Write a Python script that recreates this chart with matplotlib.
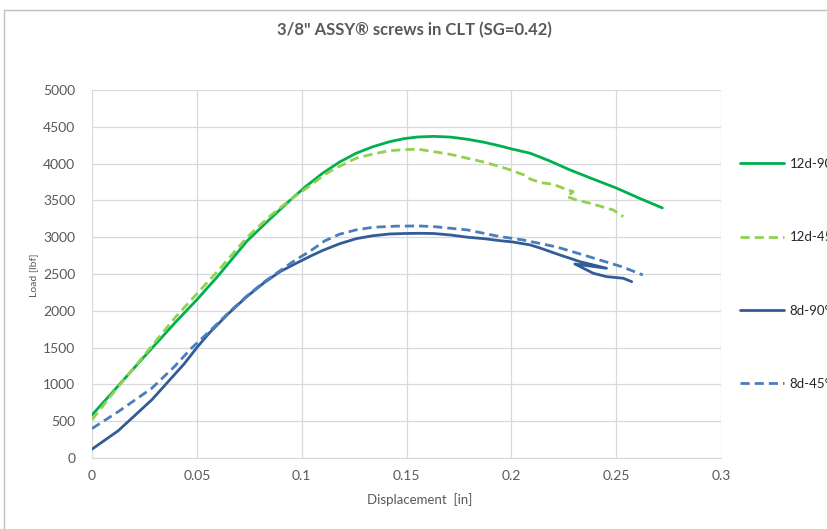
import numpy as np
import matplotlib
matplotlib.use('Agg')
import matplotlib.pyplot as plt
from matplotlib.patches import Rectangle

# data
x_12d90 = [0, 0.01, 0.025, 0.04, 0.05, 0.06, 0.074, 0.085, 0.0944, 0.102, 0.110, 0.118,
           0.126, 0.134, 0.142, 0.149, 0.1556, 0.163, 0.171, 0.179, 0.187, 0.1946,
           0.2, 0.209, 0.218, 0.228, 0.239, 0.250, 0.261, 0.272]
y_12d90 = [585, 900, 1380, 1850, 2150, 2470, 2950, 3250, 3500, 3690, 3869, 4020,
           4141, 4230, 4298, 4340, 4362, 4370, 4360, 4331, 4290, 4240,
           4200, 4141, 4040, 3914, 3790, 3669, 3530, 3398]

x_12d45 = [0, 0.01, 0.025, 0.04, 0.05, 0.06, 0.074, 0.085, 0.0944, 0.1, 0.105, 0.11,
           0.115, 0.12, 0.126, 0.134, 0.142, 0.149, 0.1556, 0.163, 0.171, 0.179,
           0.187, 0.1946, 0.2, 0.206, 0.209, 0.214, 0.220, 0.2248,
           0.2295, 0.2264, 0.2311, 0.2375, 0.2486, 0.2534]
y_12d45 = [520, 880, 1400, 1920, 2230, 2540, 3000, 3290, 3506, 3620, 3720, 3830,
           3920, 3990, 4073, 4130, 4176, 4190, 4195, 4163, 4125, 4073,
           4020, 3959, 3910, 3846, 3790, 3741, 3720, 3665,
           3619, 3551, 3506, 3461, 3370, 3279]

x_8d90 = [0, 0.0125, 0.0285, 0.044, 0.05, 0.056, 0.065, 0.0738, 0.082, 0.0897, 0.097,
          0.104, 0.110, 0.118, 0.126, 0.134, 0.142, 0.149, 0.1556, 0.163, 0.171, 0.179,
          0.187, 0.1946, 0.2007, 0.209, 0.2136, 0.222, 0.2327, 0.2454,
          0.2303, 0.2391, 0.2454, 0.2534, 0.2574]
y_8d90 = [120, 370, 790, 1280, 1500, 1700, 1960, 2192, 2380, 2532, 2640,
          2740, 2820, 2910, 2980, 3020, 3044, 3050, 3053, 3050, 3030, 3000,
          2980, 2953, 2935, 2895, 2854, 2770, 2668, 2578,
          2636, 2510, 2464, 2442, 2396]

x_8d45 = [0, 0.0125, 0.0285, 0.0396, 0.047, 0.056, 0.065, 0.0738, 0.082, 0.0897, 0.097,
          0.104, 0.111, 0.118, 0.126, 0.134, 0.145, 0.1556, 0.163, 0.179, 0.1946,
          0.2055, 0.2217, 0.2375, 0.253, 0.2627]
y_8d45 = [400, 629, 947, 1250, 1480, 1720, 1970, 2200, 2390, 2545, 2690,
          2810, 2950, 3040, 3100, 3135, 3150, 3153, 3144, 3099, 3008,
          2963, 2867, 2732, 2596, 2487]

series = [
    ('12d-90°', x_12d90, y_12d90, '#00B050', '-'),
    ('12d-45°', x_12d45, y_12d45, '#92D050', '--'),
    ('8d-90°', x_8d90, y_8d90, '#335C96', '-'),
    ('8d-45°', x_8d45, y_8d45, '#4A7EBB', '--'),
]

plt.rcParams['font.family'] = ['Lato', 'DejaVu Sans']
gray = '#595959'

fig = plt.figure(figsize=(8.27, 5.29), dpi=100)
ax = fig.add_axes([92/827, 1 - 458/529, (721 - 92)/827, (458 - 90)/529])

for label, xs, ys, color, ls in series:
    line, = ax.plot(xs, ys, color=color, lw=2.0, label=label, solid_capstyle='round',
                    solid_joinstyle='round')
    if ls == '--':
        line.set_dashes((3.3, 1.8))
        line.set_dash_capstyle('butt')

ax.set_xlim(0, 0.3)
ax.set_ylim(0, 5000)
ax.set_xticks(np.arange(0, 0.31, 0.05))
ax.set_xticklabels(['0', '0.05', '0.1', '0.15', '0.2', '0.25', '0.3'])
ax.set_yticks(np.arange(0, 5001, 500))
ax.grid(True, color='#D9D9D9', lw=0.9)
ax.set_axisbelow(True)
for s in ['top', 'right', 'left']:
    ax.spines[s].set_visible(False)
ax.spines['bottom'].set_color('#D9D9D9')
ax.tick_params(length=0, labelsize=10, labelcolor=gray)
ax.tick_params(axis='y', pad=12)
ax.tick_params(axis='x', pad=9)

fig.text(414/827, 1 - 30/529, '3/8" ASSY® screws in CLT (SG=0.42)', ha='center', va='center',
         fontsize=12, fontweight='bold', color=gray)
fig.text(420/827, 1 - 500/529, 'Displacement  [in]', ha='center', va='center',
         fontsize=9.5, color=gray)
fig.text(34/827, 1 - 275/529, 'Load [lbf]', ha='center', va='center', rotation=90,
         fontsize=7.5, color=gray)

fig.legend(loc='upper left', bbox_to_anchor=(740/827, 1 - 158/529), frameon=False,
           fontsize=9.5, handlelength=3.3, handletextpad=0.45, labelspacing=4.65,
           borderpad=0, borderaxespad=0, labelcolor='#262626')

fig.patches.append(Rectangle((4/827, -0.02), 1.0, 1 - 10/529 + 0.02, transform=fig.transFigure,
                             fill=False, edgecolor='#BFBFBF', lw=1.0))

fig.savefig('out.png', dpi=100)
